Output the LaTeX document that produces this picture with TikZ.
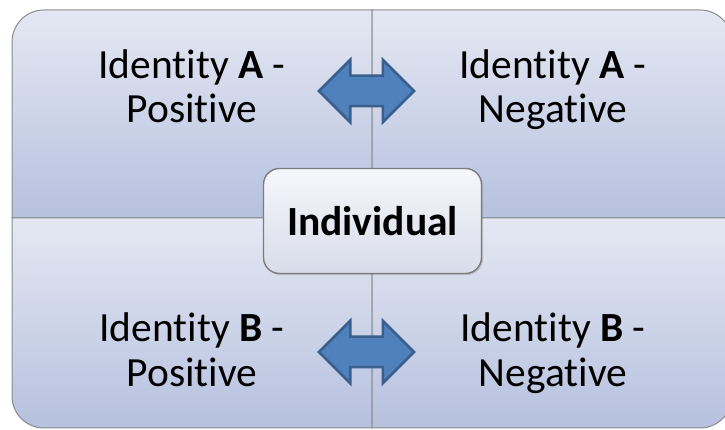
\documentclass[tikz,border=0pt]{standalone}
\usepackage{fontspec}
\setmainfont[Ligatures=NoCommon]{Carlito}
\usetikzlibrary{shapes.arrows,shadows}
\definecolor{qtop}{HTML}{E5E8F3}
\definecolor{qbot}{HTML}{B6C1DF}
\definecolor{ctop}{HTML}{F6F7FB}
\definecolor{cbot}{HTML}{D8DCEA}
\definecolor{afill}{HTML}{4F81BD}
\definecolor{aline}{HTML}{3A5F8C}
\definecolor{qline}{HTML}{8A8A8A}
\begin{document}
\begin{tikzpicture}[x=1pt,y=1pt,
  quad/.style={top color=qtop,bottom color=qbot,draw=qline,line width=1pt},
  lbl/.style={font=\fontsize{41.5}{44}\selectfont,anchor=base,inner sep=0pt},
  dblarrow/.style={double arrow,double arrow head extend=16pt,minimum height=95pt,
    minimum width=0pt,inner xsep=0pt,inner ysep=14pt,fill=afill,draw=aline,line width=2.5pt},
  centerbox/.style={rounded corners=16pt,top color=ctop,bottom color=cbot,draw=qline!90!black,
    line width=1.4pt,minimum width=218pt,minimum height=105pt,
    font=\fontsize{41.5}{44}\selectfont\bfseries,
    drop shadow={shadow xshift=1.5pt,shadow yshift=-1.5pt,opacity=.35,fill=gray}}]
\useasboundingbox (0,0) rectangle (725,430);
\clip (0,0) rectangle (725,430);
% quadrants
\path[quad] (12,212) -- (12,388) arc[start angle=180,end angle=90,radius=32] -- (372,420) -- (372,212) -- cycle;
\path[quad] (372,212) -- (372,420) -- (700,420) arc[start angle=90,end angle=0,radius=32] -- (732,212) -- cycle;
\path[quad] (12,212) -- (12,34) arc[start angle=180,end angle=270,radius=32] -- (372,2) -- (372,212) -- cycle;
\path[quad] (372,212) -- (372,2) -- (700,2) arc[start angle=-90,end angle=0,radius=32] -- (732,212) -- cycle;
% labels
\node[lbl] (ulA) at (192,351) {Identity \textbf{A} -};
\node[lbl] (ulB) at (192,307) {Positive};
\node[lbl] (urA) at (553,351) {Identity \textbf{A} -};
\node[lbl] (urB) at (553,307) {Negative};
\node[lbl] (llA) at (192,88) {Identity \textbf{B} -};
\node[lbl] (llB) at (192,43) {Positive};
\node[lbl] (lrA) at (553,88) {Identity \textbf{B} -};
\node[lbl] (lrB) at (553,43) {Negative};
% arrows
\node[dblarrow] (arrA) at (366.5,339) {};
\node[dblarrow] (arrB) at (366.5,78) {};
% center
\node[centerbox] (ind) at (372.5,209) {Individual};
\end{tikzpicture}
\end{document}
